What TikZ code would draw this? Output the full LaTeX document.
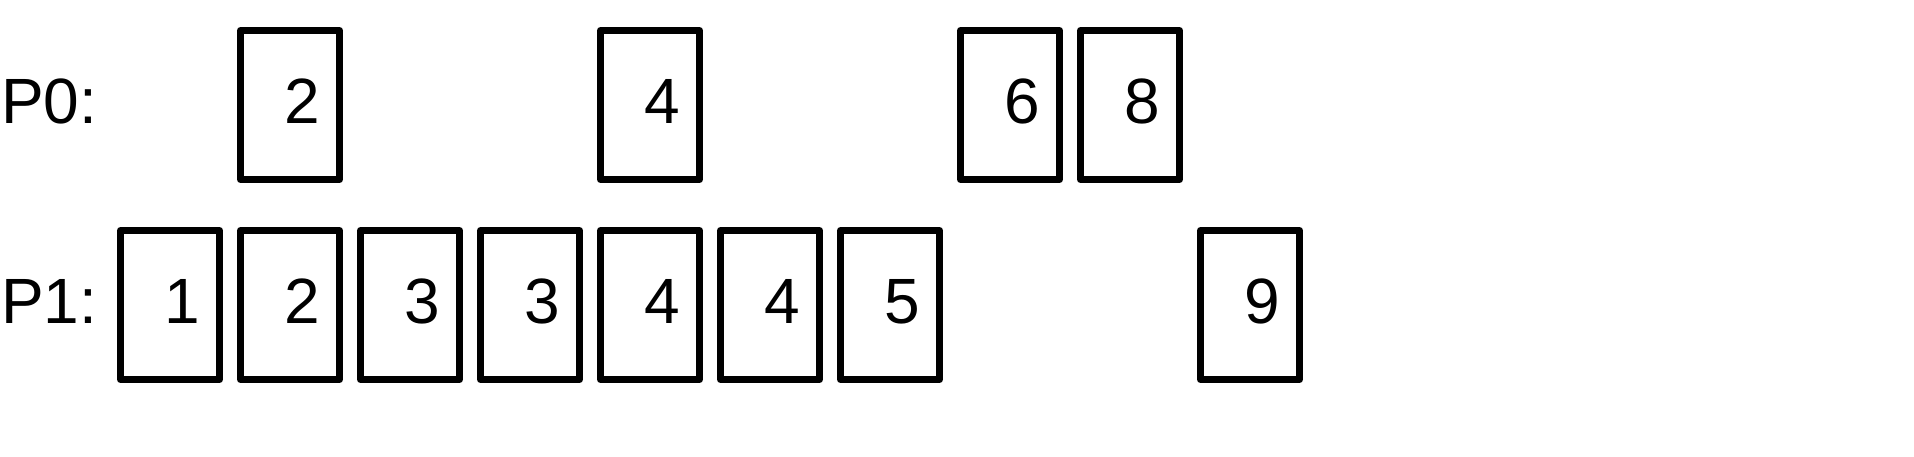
\documentclass[tikz,border=0pt]{standalone}
\usepackage{fontspec}
\setmainfont{Liberation Sans}
\begin{document}
\begin{tikzpicture}[x=1pt,y=-1pt,
  card/.style={draw=black, line width=7pt, line join=round, minimum width=99pt, minimum height=149pt, inner sep=0pt, outer sep=0pt},
  num/.style={anchor=base, inner sep=0pt, font=\fontsize{64}{70}\selectfont},
  lbl/.style={anchor=base west, inner sep=0pt, font=\fontsize{64}{70}\selectfont}]
\useasboundingbox (0,0) rectangle (1914,456);
% labels
\node[lbl] (p0) at (1,123) {P0:};
\node[lbl] (p1) at (1,323) {P1:};
% top row (P0)
\foreach \i/\v in {1/2,4/4,7/6,8/8}{
  \node[card] (t\i) at (170+120*\i,105) {};
  \node[num] (tn\i) at (182+120*\i,123) {\v};
}
% bottom row (P1)
\foreach \i/\v in {0/1,1/2,2/3,3/3,4/4,5/4,6/5,9/9}{
  \node[card] (b\i) at (170+120*\i,305) {};
  \node[num] (bn\i) at (182+120*\i,323) {\v};
}
\end{tikzpicture}
\end{document}
